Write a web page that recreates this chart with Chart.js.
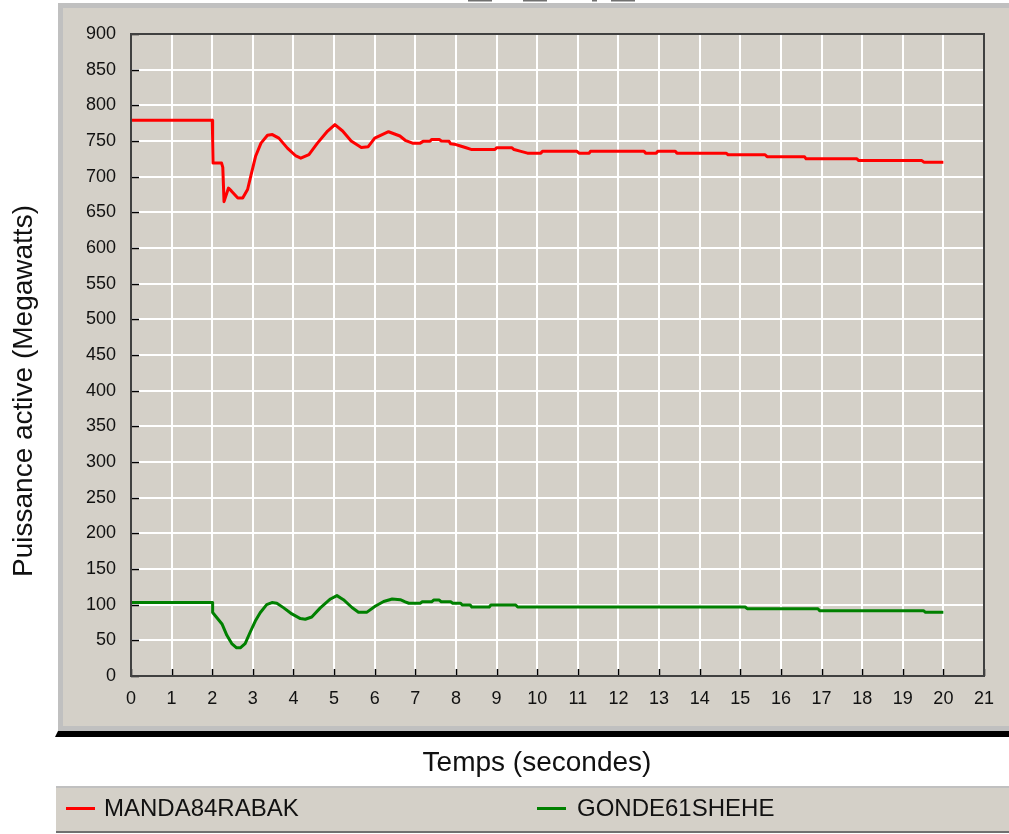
<!DOCTYPE html>
<html>
<head>
<meta charset="utf-8">
<script src="https://cdn.jsdelivr.net/npm/chart.js@4.4.0/dist/chart.umd.min.js"></script>
<style>
  body { margin: 0; background: #fff; }
  #wrap { width: 1009px; height: 834px; }
</style>
</head>
<body>
<div id="wrap"><canvas id="myChart" width="1009" height="834"></canvas></div>
<script>
// values: time (s) and active power (MW)
var timeRed = [0, 2.0, 2.01, 2.02, 2.23, 2.26, 2.29, 2.4, 2.47, 2.63,
  2.75, 2.87, 2.95, 3.07, 3.2, 3.36, 3.48, 3.64, 3.85, 4.06,
  4.18, 4.38, 4.59, 4.84, 5.02, 5.21, 5.42, 5.67, 5.84, 6.0,
  6.34, 6.62, 6.75, 6.93, 7.12, 7.19, 7.36, 7.4, 7.59, 7.64,
  7.83, 7.87, 8.0, 8.11, 8.25, 8.39, 8.96, 9.0, 9.38, 9.43,
  9.6, 9.76, 10.09, 10.13, 10.98, 11.03, 11.28, 11.31, 12.63, 12.67,
  12.93, 12.97, 13.4, 13.44, 14.65, 14.7, 15.61, 15.66, 16.58, 16.62,
  17.87, 17.91, 19.47, 19.52, 20.0];
var powerRed = [779, 779, 752, 719, 719, 713, 665, 684, 680, 670,
  670, 682, 701, 729, 747, 758, 759, 754, 740, 729,
  726, 731, 747, 764, 773, 764, 750, 741, 742, 754,
  763, 757, 751, 747, 747, 749.5, 749.5, 752, 752, 750,
  749.5, 746, 745, 743, 740.5, 738, 738, 740.5, 740.5, 738,
  735.5, 733, 733, 735.5, 735.5, 733, 733, 735.5, 735.5, 733,
  733, 735.5, 735.5, 733, 733, 730.7, 730.7, 728, 728, 725,
  725, 722.6, 722.6, 720.3, 720.3];

var timeGreen = [0, 2.01, 2.01, 2.11, 2.24, 2.36, 2.48, 2.6, 2.69, 2.81,
  2.93, 3.06, 3.18, 3.34, 3.47, 3.59, 3.76, 3.96, 4.17, 4.29,
  4.45, 4.66, 4.91, 5.07, 5.23, 5.44, 5.6, 5.81, 6.01, 6.22,
  6.43, 6.63, 6.75, 6.84, 7.12, 7.17, 7.4, 7.45, 7.59, 7.64,
  7.87, 7.92, 8.11, 8.16, 8.35, 8.39, 8.82, 8.86, 9.47, 9.52,
  15.12, 15.17, 16.91, 16.95, 19.51, 19.56, 20.0];
var powerGreen = [103, 103, 89, 82, 73, 57, 45.5, 39.5, 39.5, 45.5,
  61, 77, 88.6, 100, 103, 102, 95.5, 87, 80.5, 79.5,
  82.7, 95.5, 108, 112.7, 107, 96, 89.5, 89.5, 97.7, 104.5,
  108, 107, 104, 102, 102, 104, 104, 106.5, 106.5, 104,
  104, 102, 102, 99.5, 99.5, 96.7, 96.7, 99.5, 99.5, 96.7,
  96.7, 94.4, 94.4, 91.6, 91.6, 89.3, 89.3];

var seriesNames = ['MANDA84RABAK', 'GONDE61SHEHE'];
var seriesColors = ['#ff0000', '#008000'];
var xTitle = 'Temps (secondes)';
var yTitle = 'Puissance active (Megawatts)';

var FONT = '"Liberation Sans", Arial, sans-serif';

function toPoints(xs, ys) {
  var pts = [];
  for (var i = 0; i < xs.length; i++) pts.push({x: xs[i], y: ys[i]});
  return pts;
}

var framePlugin = {
  id: 'frame',
  beforeDraw: function(chart) {
    var c = chart.ctx;
    c.save();
    c.fillStyle = '#ffffff';
    c.fillRect(0, 0, 1009, 834);
    // bits of the cut-off title
    c.fillStyle = '#707070';
    c.fillRect(468, 0, 24, 1.5);
    c.fillRect(523, 0, 24, 1.5);
    c.fillRect(592, 0, 5, 1.5);
    c.fillRect(611, 0, 24, 1.5);
    // grey panel
    c.fillStyle = '#c0c0c0';
    c.fillRect(58, 3, 960, 728);
    c.fillStyle = '#d4d0c8';
    c.fillRect(63, 8, 960, 718);
    // dark shadow under the panel
    c.fillStyle = '#000000';
    c.beginPath();
    c.moveTo(58, 731); c.lineTo(1009, 731); c.lineTo(1009, 737); c.lineTo(55, 737);
    c.closePath(); c.fill();
    // legend bar
    c.fillStyle = '#d4d0c8';
    c.fillRect(56, 787, 960, 45);
    c.fillStyle = '#c0c0c0';
    c.fillRect(56, 786, 960, 2);
    c.fillStyle = '#707070';
    c.fillRect(56, 831, 960, 2);
    c.restore();
  },
  afterDraw: function(chart) {
    var c = chart.ctx;
    var a = chart.chartArea;
    var xs = chart.scales.x, ys = chart.scales.y;
    c.save();
    // inward tick marks
    c.strokeStyle = '#000000';
    c.lineWidth = 1.5;
    xs.ticks.forEach(function(t) {
      var px = Math.round(xs.getPixelForValue(t.value)) + 0.5;
      c.beginPath(); c.moveTo(px, a.bottom); c.lineTo(px, a.bottom - 7); c.stroke();
    });
    ys.ticks.forEach(function(t) {
      var py = Math.round(ys.getPixelForValue(t.value)) + 0.5;
      c.beginPath(); c.moveTo(a.left, py); c.lineTo(a.left + 8, py); c.stroke();
    });
    // plot frame
    c.strokeStyle = '#404040';
    c.lineWidth = 2;
    c.strokeRect(a.left, a.top, a.right - a.left, a.bottom - a.top);
    // axis titles
    c.fillStyle = '#111111';
    c.font = '28px ' + FONT;
    c.textAlign = 'center';
    c.textBaseline = 'middle';
    c.fillText(xTitle, 537, 763);
    c.save();
    c.translate(24, 391);
    c.rotate(-Math.PI / 2);
    c.fillText(yTitle, 0, 0);
    c.restore();
    // legend
    var items = [[66, 104], [537, 577]];
    c.font = '24px ' + FONT;
    c.textAlign = 'left';
    chart.data.datasets.forEach(function(ds, i) {
      c.fillStyle = ds.borderColor;
      c.fillRect(items[i][0], 807, 29, 3);
      c.fillStyle = '#111111';
      c.fillText(ds.label, items[i][1], 809);
    });
    c.restore();
  }
};

var ctx = document.getElementById('myChart').getContext('2d');
var myChart = new Chart(ctx, {
  type: 'line',
  data: {
    datasets: [
      {
        label: seriesNames[0],
        data: toPoints(timeRed, powerRed),
        borderColor: seriesColors[0],
        borderWidth: 3,
        borderJoinStyle: 'round',
        pointRadius: 0,
        tension: 0,
        fill: false
      },
      {
        label: seriesNames[1],
        data: toPoints(timeGreen, powerGreen),
        borderColor: seriesColors[1],
        borderWidth: 3,
        borderJoinStyle: 'round',
        pointRadius: 0,
        tension: 0,
        fill: false
      }
    ]
  },
  options: {
    responsive: false,
    animation: false,
    layout: { padding: { top: 34, right: 25, left: 0, bottom: 0 } },
    plugins: {
      legend: { display: false },
      tooltip: { enabled: false }
    },
    scales: {
      x: {
        type: 'linear',
        min: 0,
        max: 21,
        afterFit: function(s) { s.height = 158; },
        ticks: {
          stepSize: 1,
          padding: 12,
          color: '#111111',
          font: { family: FONT, size: 18 },
          maxRotation: 0,
          autoSkip: false
        },
        grid: { color: '#ffffff', lineWidth: 2, drawTicks: false },
        border: { display: false }
      },
      y: {
        min: 0,
        max: 900,
        afterFit: function(s) { s.width = 131; },
        ticks: {
          stepSize: 50,
          padding: 15,
          color: '#111111',
          font: { family: FONT, size: 18 }
        },
        grid: { color: '#ffffff', lineWidth: 2, drawTicks: false },
        border: { display: false }
      }
    }
  },
  plugins: [framePlugin]
});
</script>
</body>
</html>
